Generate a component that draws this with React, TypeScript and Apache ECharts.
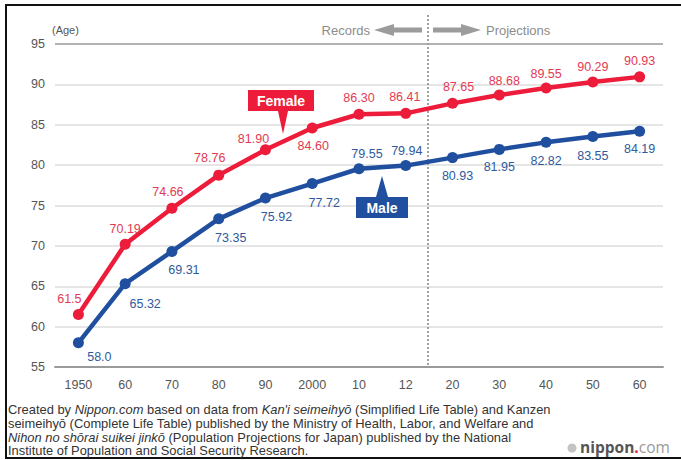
import React, { useEffect, useRef } from "react";
import * as echarts from "echarts";

// Life expectancy at birth in Japan (years)
const years = ["1950", "60", "70", "80", "90", "2000", "10", "12", "20", "30", "40", "50", "60"];
const female = [61.5, 70.19, 74.66, 78.76, 81.9, 84.6, 86.3, 86.41, 87.65, 88.68, 89.55, 90.29, 90.93];
const male = [58.0, 65.32, 69.31, 73.35, 75.92, 77.72, 79.55, 79.94, 80.93, 81.95, 82.82, 83.55, 84.19];
const femaleLabels = ["61.5", "70.19", "74.66", "78.76", "81.90", "84.60", "86.30", "86.41", "87.65", "88.68", "89.55", "90.29", "90.93"];
const maleLabels = ["58.0", "65.32", "69.31", "73.35", "75.92", "77.72", "79.55", "79.94", "80.93", "81.95", "82.82", "83.55", "84.19"];
const yTicks = [55, 60, 65, 70, 75, 80, 85, 90, 95];

// Label offsets (dx, dy) from each point's centre
const femaleLabelOffset: [number, number][] = [
  [-9, -16], [0, -15], [-4, -16], [-9, -17], [-12, -11], [1, 18], [0, -16],
  [-1, -16], [6, -16], [5, -14], [0, -14], [0, -15], [0, -16],
];
const maleLabelOffset: [number, number][] = [
  [21, 14], [20, 20], [12, 19], [12, 19], [11, 19], [12, 19], [8, -15],
  [1, -15], [5, 18], [0, 18], [0, 19], [0, 20], [0, 18],
];

const FONT = "'Liberation Sans', Arial, Helvetica, sans-serif";
const RED = "#ec1c3a";
const BLUE = "#1f4f9e";

function buildData(values: number[], texts: string[], offsets: [number, number][], color: string) {
  return values.map((v, i) => ({
    value: v,
    label: {
      show: true,
      position: "inside",
      offset: offsets[i],
      formatter: texts[i],
      color,
      fontSize: 12.5,
      fontFamily: FONT,
    },
  }));
}

export default function App() {
  const ref = useRef<HTMLDivElement>(null);

  useEffect(() => {
    document.body.style.margin = "0";
    const chart = echarts.init(ref.current!, null, { renderer: "svg" });

    const splitColors = yTicks.map((t, i) => (i === yTicks.length - 1 ? "#9a9a9a" : "#dcdcdc"));

    chart.setOption({
      animation: false,
      backgroundColor: "#ffffff",
      grid: { left: 55, right: 18, top: 44, bottom: 93 },
      xAxis: {
        type: "category",
        data: years,
        boundaryGap: true,
        axisLine: { lineStyle: { color: "#9a9a9a", width: 2 } },
        axisTick: { alignWithLabel: true, inside: true, length: 7, lineStyle: { color: "#c8c8c8" } },
        axisLabel: { color: "#555", fontSize: 12.5, fontFamily: FONT, margin: 11 },
      },
      yAxis: {
        type: "value",
        min: 55,
        max: 95,
        interval: 5,
        axisLine: { show: false },
        axisTick: { show: false },
        axisLabel: { color: "#555", fontSize: 12.5, fontFamily: FONT, margin: 10 },
        splitLine: { lineStyle: { color: splitColors, width: 1.5 } },
      },
      series: [
        {
          name: "Male",
          type: "line",
          data: buildData(male, maleLabels, maleLabelOffset, "#2f5a9e"),
          symbol: "circle",
          symbolSize: 11,
          lineStyle: { color: BLUE, width: 4.5 },
          itemStyle: { color: BLUE },
        },
        {
          name: "Female",
          type: "line",
          data: buildData(female, femaleLabels, femaleLabelOffset, "#e23a55"),
          symbol: "circle",
          symbolSize: 11,
          lineStyle: { color: RED, width: 4.5 },
          itemStyle: { color: RED },
        },
      ],
      graphic: [
        // frame
        { type: "line", shape: { x1: 5, y1: 5, x2: 681, y2: 5 }, style: { stroke: "#111", lineWidth: 2 } },
        { type: "line", shape: { x1: 6, y1: 5, x2: 6, y2: 459 }, style: { stroke: "#111", lineWidth: 2 } },
        { type: "line", shape: { x1: 5, y1: 458, x2: 681, y2: 458 }, style: { stroke: "#111", lineWidth: 2 } },
        // unit
        { type: "text", x: 52, y: 30, style: { text: "(Age)", fill: "#555", fontSize: 11, fontFamily: FONT, verticalAlign: "middle" } },
        // records / projections divider
        {
          type: "line",
          z: 1,
          shape: { x1: 428, y1: 15, x2: 428, y2: 367 },
          style: { stroke: "#a0a0a0", lineWidth: 2, lineDash: [2, 2] },
        },
        { type: "text", x: 370, y: 30, style: { text: "Records", fill: "#8c8c8c", fontSize: 13, fontFamily: FONT, align: "right", verticalAlign: "middle" } },
        {
          type: "polygon",
          shape: { points: [[374, 30], [394, 24], [394, 27.5], [422, 27.5], [422, 32.5], [394, 32.5], [394, 36]] },
          style: { fill: "#9c9c9c" },
        },
        {
          type: "polygon",
          shape: { points: [[481, 30], [461, 24], [461, 27.5], [433, 27.5], [433, 32.5], [461, 32.5], [461, 36]] },
          style: { fill: "#9c9c9c" },
        },
        { type: "text", x: 486, y: 30, style: { text: "Projections", fill: "#8c8c8c", fontSize: 13, fontFamily: FONT, verticalAlign: "middle" } },
        // series callouts
        {
          type: "polygon",
          z: 10,
          shape: { points: [[248, 90], [314, 90], [314, 111], [288, 111], [283, 134], [278, 111], [248, 111]] },
          style: { fill: RED },
        },
        { type: "text", z: 11, x: 281, y: 101, style: { text: "Female", fill: "#fff", fontSize: 14, fontWeight: "bold", fontFamily: FONT, align: "center", verticalAlign: "middle" } },
        {
          type: "polygon",
          z: 10,
          shape: { points: [[356, 197], [376, 197], [382, 176], [388, 197], [408, 197], [408, 218], [356, 218]] },
          style: { fill: BLUE },
        },
        { type: "text", z: 11, x: 382, y: 208, style: { text: "Male", fill: "#fff", fontSize: 14, fontWeight: "bold", fontFamily: FONT, align: "center", verticalAlign: "middle" } },
        // source note
        {
          type: "text",
          x: 8,
          y: 403,
          style: {
            text:
              "Created by {i|Nippon.com} based on data from {i|Kan'i seimeihyō} (Simplified Life Table) and Kanzen\n" +
              "seimeihyō (Complete Life Table) published by the Ministry of Health, Labor, and Welfare and\n" +
              "{i|Nihon no shōrai suikei jinkō} (Population Projections for Japan) published by the National\n" +
              "Institute of Population and Social Security Research.",
            fill: "#333",
            fontSize: 12.9,
            lineHeight: 13.7,
            fontFamily: FONT,
            rich: {
              i: { fontStyle: "italic", fill: "#333", fontSize: 12.9, lineHeight: 13.7, fontFamily: FONT },
            },
          },
        },
        // logo
        { type: "circle", shape: { cx: 572, cy: 448, r: 4.5 }, style: { fill: "#c4c4c4" } },
        {
          type: "text",
          x: 580,
          y: 447,
          style: {
            text: "{n|nippon}{d|.}{c|com}",
            verticalAlign: "middle",
            rich: {
              n: { fill: "#555", fontSize: 15.5, fontWeight: "bold", fontFamily: "'Open Sans', " + FONT },
              d: { fill: RED, fontSize: 15.5, fontWeight: "bold", fontFamily: "'Open Sans', " + FONT },
              c: { fill: "#9a9a9a", fontSize: 15.5, fontFamily: "'Open Sans', " + FONT },
            },
          },
        },
      ],
    });

    return () => chart.dispose();
  }, []);

  return (
    <div
      ref={ref}
      style={{ position: "absolute", left: 0, top: 0, width: 681, height: 460, background: "#fff" }}
    />
  );
}
